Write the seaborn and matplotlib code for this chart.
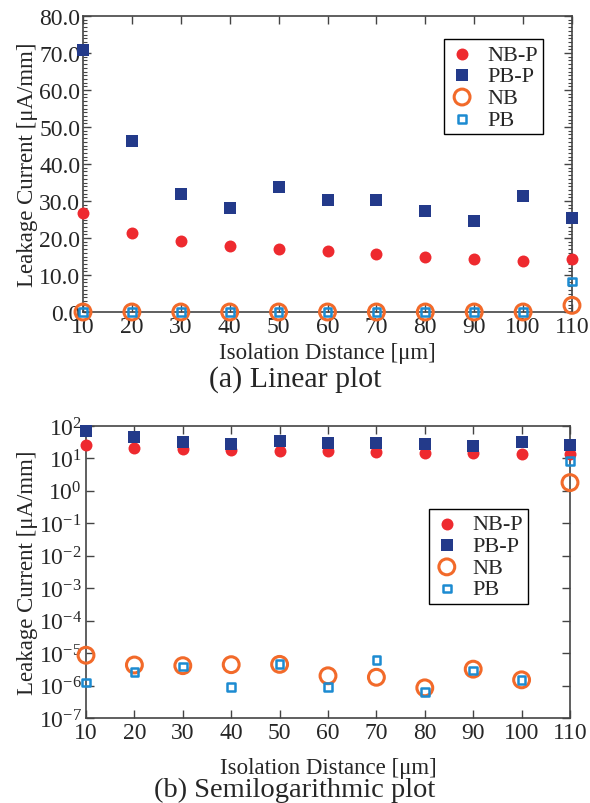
import numpy as np
import pandas as pd
import matplotlib
matplotlib.use("Agg")
import matplotlib.pyplot as plt
import matplotlib.ticker as mticker
import seaborn as sns

# ---- data ----
distance = [10, 20, 30, 40, 50, 60, 70, 80, 90, 100, 110]
nb_p = [26.8, 21.3, 19.3, 17.9, 17.1, 16.5, 15.8, 15.0, 14.4, 13.7, 14.2]
pb_p = [70.8, 46.3, 31.8, 28.2, 33.8, 30.2, 30.3, 27.4, 24.5, 31.4, 25.3]
nb = [8.6e-6, 4.3e-6, 4.1e-6, 4.4e-6, 4.5e-6, 2.0e-6, 1.8e-6, 8.5e-7, 3.2e-6, 1.5e-6, 1.8]
pb = [1.23e-6, 2.6e-6, 3.9e-6, 9.1e-7, 4.7e-6, 9.1e-7, 6.2e-6, 6.2e-7, 2.9e-6, 1.5e-6, 8.2]
series_names = ["NB-P", "PB-P", "NB", "PB"]
x_ticks = [10, 20, 30, 40, 50, 60, 70, 80, 90, 100, 110]
lin_yticks = [0, 10, 20, 30, 40, 50, 60, 70, 80]
log_yticks = [1e-7, 1e-6, 1e-5, 1e-4, 1e-3, 1e-2, 1e-1, 1e0, 1e1, 1e2]

sns.set_style("ticks")
plt.rcParams["font.family"] = ["Liberation Serif", "DejaVu Serif"]
plt.rcParams["mathtext.fontset"] = "custom"
plt.rcParams["mathtext.rm"] = "Liberation Serif"
plt.rcParams["mathtext.it"] = "Liberation Serif:italic"
plt.rcParams["mathtext.bf"] = "Liberation Serif:bold"

C_RED = "#EE2A2F"
C_NAVY = "#233A8A"
C_ORANGE = "#F26A2A"
C_BLUE = "#1C8BD1"
SPINE = "#444444"

values = {"NB-P": nb_p, "PB-P": pb_p, "NB": nb, "PB": pb}
styles = {
    "NB-P": dict(marker="o", s=74, color=C_RED, edgecolor=C_RED, linewidth=0),
    "PB-P": dict(marker="s", s=66, color=C_NAVY, edgecolor=C_NAVY, linewidth=0),
    "NB": dict(marker="o", s=130, facecolor="none", edgecolor=C_ORANGE, linewidth=2.2),
    "PB": dict(marker="s", s=30, facecolor="none", edgecolor=C_BLUE, linewidth=1.8),
}

fig = plt.figure(figsize=(5.9, 8.04), dpi=100)
ax1 = fig.add_axes([83 / 590, 1 - 313 / 804, 489 / 590, 296 / 804])
ax2 = fig.add_axes([86 / 590, 1 - 719 / 804, 484 / 590, 292 / 804])

for ax in (ax1, ax2):
    for name in series_names:
        df = pd.DataFrame({"x": distance, "y": values[name]})
        sns.scatterplot(data=df, x="x", y="y", ax=ax, label=name,
                        clip_on=False, zorder=3, **styles[name])
    ax.set_xlim(10, 110)
    ax.set_xticks(x_ticks)
    ax.set_xticklabels([str(v) for v in x_ticks])
    for sp in ax.spines.values():
        sp.set_visible(True)
        sp.set_color(SPINE)
        sp.set_linewidth(1.2)
    ax.tick_params(axis="both", which="both", direction="in", top=True, right=True,
                   color=SPINE, labelsize=17, pad=3)
    ax.tick_params(which="major", length=6, width=1.0)
    ax.tick_params(which="minor", length=3, width=0.8)
    ax.set_xlabel("Isolation Distance [μm]", fontsize=16.5)
    ax.set_ylabel("Leakage Current [μA/mm]", fontsize=16.5)

# linear plot
ax1.set_ylim(0, 80)
ax1.set_yticks(lin_yticks)
ax1.yaxis.set_major_formatter(mticker.FormatStrFormatter("%.1f"))
ax1.yaxis.set_minor_locator(mticker.MultipleLocator(1))
ax1.tick_params(axis="y", pad=2)
ax1.xaxis.set_label_coords(0.5, -0.1)
ax1.yaxis.set_label_coords(-0.092, 0.5)

# log plot
ax2.set_yscale("log")
ax2.set_ylim(1e-7, 1e2)
ax2.set_yticks(log_yticks)
ax2.yaxis.set_minor_locator(mticker.NullLocator())
ax2.xaxis.set_label_coords(0.5, -0.135)
ax2.yaxis.set_label_coords(-0.1, 0.5)

leg_kw = dict(fontsize=16, frameon=True, fancybox=False, framealpha=1,
              edgecolor="black", borderpad=0.22, labelspacing=0.05,
              handletextpad=0.55, handlelength=1.2, borderaxespad=0)
l1 = ax1.legend(loc="upper right", bbox_to_anchor=(0.941, 0.922), **leg_kw)
l2 = ax2.legend(loc="upper right", bbox_to_anchor=(0.913, 0.716), **leg_kw)
for lg in (l1, l2):
    lg.get_frame().set_linewidth(1.0)

fig.text(0.5, 1 - 380 / 804, "(a) Linear plot", ha="center", va="center", fontsize=21.5)
fig.text(0.5, 1 - 797 / 804, "(b) Semilogarithmic plot", ha="center", va="baseline", fontsize=20.5)

fig.savefig("out.png", dpi=100)
